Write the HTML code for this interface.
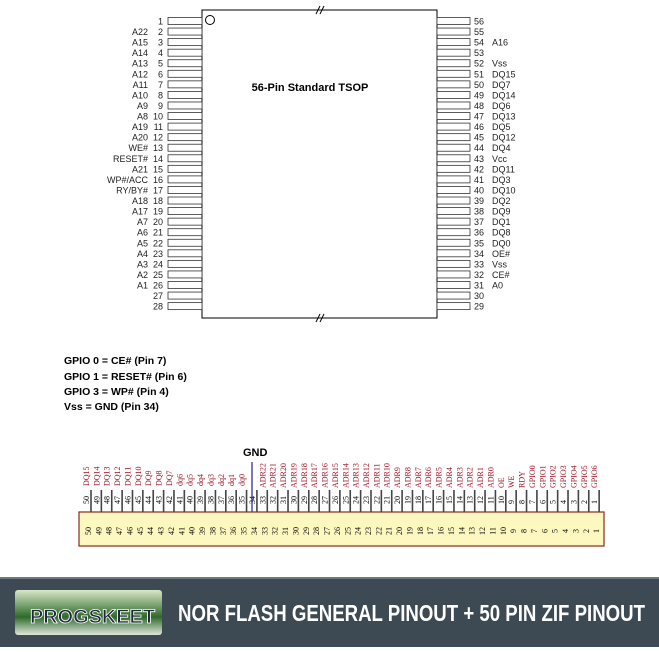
<!DOCTYPE html>
<html><head><meta charset="utf-8"><style>
body{margin:0;background:#fff;width:659px;height:647px;overflow:hidden;font-family:"Liberation Sans",sans-serif}
</style></head><body>
<svg width="659" height="647" xmlns="http://www.w3.org/2000/svg" font-family="Liberation Sans, sans-serif">
<rect x="202" y="10" width="235" height="308" fill="#fff" stroke="#000" stroke-width="1"/>
<circle cx="210" cy="20" r="4.5" fill="none" stroke="#000"/>
<text x="310" y="91" font-size="11" font-weight="bold" text-anchor="middle">56-Pin Standard TSOP</text>
<g stroke="#000" stroke-width="1"><line x1="316" y1="14" x2="320" y2="6"/><line x1="320" y1="14" x2="324" y2="6"/>
<line x1="316" y1="322" x2="320" y2="314"/><line x1="320" y1="322" x2="324" y2="314"/></g>
<g id="pins" font-size="9" fill="#222"></g>
<text x="64" y="364" font-size="10.5" font-weight="bold">GPIO 0 = CE# (Pin 7)</text>
<text x="64" y="380" font-size="10.5" font-weight="bold">GPIO 1 = RESET# (Pin 6)</text>
<text x="64" y="395" font-size="10.5" font-weight="bold">GPIO 3 = WP# (Pin 4)</text>
<text x="64" y="410" font-size="10.5" font-weight="bold">Vss = GND (Pin 34)</text>
<text x="243" y="456" font-size="11" font-weight="bold">GND</text>
<line x1="252" y1="462" x2="252" y2="512" stroke="#22228a" stroke-width="1.2"/>
<rect x="79" y="512" width="525" height="34" fill="#fdf8c0" stroke="#8a2a1a" stroke-width="1.2"/>
<g id="zif"></g>
<rect x="0" y="577" width="659" height="70" fill="#3d4a54"/>
<rect x="0" y="577" width="659" height="2" fill="#6d7880"/>
<defs><linearGradient id="lg" x1="0" y1="0" x2="0" y2="1"><stop offset="0" stop-color="#d8e8c8"/><stop offset="0.6" stop-color="#2e6a2a"/><stop offset="1" stop-color="#e0e6dc"/></linearGradient></defs>
<rect x="15" y="590" width="147" height="45" rx="3" fill="url(#lg)"/>
<text x="30" y="623" font-size="19" font-weight="bold" fill="#1e2a38" stroke="#fff" stroke-width="0.8" textLength="125" lengthAdjust="spacingAndGlyphs">PROGSKEET</text>
<text x="178" y="621" font-size="23" font-weight="bold" fill="#fff" textLength="467" lengthAdjust="spacingAndGlyphs">NOR FLASH GENERAL PINOUT + 50 PIN ZIF PINOUT</text>
</svg>
<script>
const NS="http://www.w3.org/2000/svg";
function el(p,t,a,txt){const e=document.createElementNS(NS,t);for(const k in a)e.setAttribute(k,a[k]);if(txt!==undefined)e.textContent=txt;p.appendChild(e);return e;}
const g=document.getElementById('pins');
const L=["","A22","A15","A14","A13","A12","A11","A10","A9","A8","A19","A20","WE#","RESET#","A21","WP#/ACC","RY/BY#","A18","A17","A7","A6","A5","A4","A3","A2","A1","",""];
const R=["","","A16","","Vss","DQ15","DQ7","DQ14","DQ6","DQ13","DQ5","DQ12","DQ4","Vcc","DQ11","DQ3","DQ10","DQ2","DQ9","DQ1","DQ8","DQ0","OE#","Vss","CE#","A0","",""];
for(let i=0;i<28;i++){const y=21+i*10.56;
el(g,'rect',{x:168,y:y-3.5,width:34,height:7,fill:'#fff',stroke:'#333','stroke-width':0.8});
el(g,'text',{x:163,y:y+3.5,'text-anchor':'end'},String(i+1));
el(g,'text',{x:148,y:y+3.5,'text-anchor':'end'},L[i]);
el(g,'rect',{x:437,y:y-3.5,width:33,height:7,fill:'#fff',stroke:'#333','stroke-width':0.8});
el(g,'text',{x:474,y:y+3.5},String(56-i));
el(g,'text',{x:492,y:y+3.5},R[i]);}
const z=document.getElementById('zif');
const ZL=["DQ15","DQ14","DQ13","DQ12","DQ11","DQ10","DQ9","DQ8","DQ7","dq6","dq5","dq4","dq3","dq2","dq1","dq0",""];
for(let a=22;a>=0;a--)ZL.push("ADR"+a);
ZL.push("OE","WE","RDY");for(let k=0;k<7;k++)ZL.push("GPIO"+k);
for(let i=0;i<50;i++){const n=50-i;const x=88+i*10.37;
el(z,'line',{x1:x+3,y1:490,x2:x+3,y2:512,stroke:'#444','stroke-width':1.6});
el(z,'text',{transform:`translate(${x+3},531) rotate(-90)`,'font-size':8,'font-family':'Liberation Serif, serif','text-anchor':'middle'},String(n));
el(z,'text',{transform:`translate(${x+1},504) rotate(-90)`,'font-size':8,'font-family':'Liberation Serif, serif'},String(n));
if(ZL[i])el(z,'text',{transform:`translate(${x+1},${n>=34?486:488}) rotate(-90)`,'font-size':8,'font-family':'Liberation Serif, serif',fill:'#a01020'},ZL[i]);}
</script>
</body></html>
